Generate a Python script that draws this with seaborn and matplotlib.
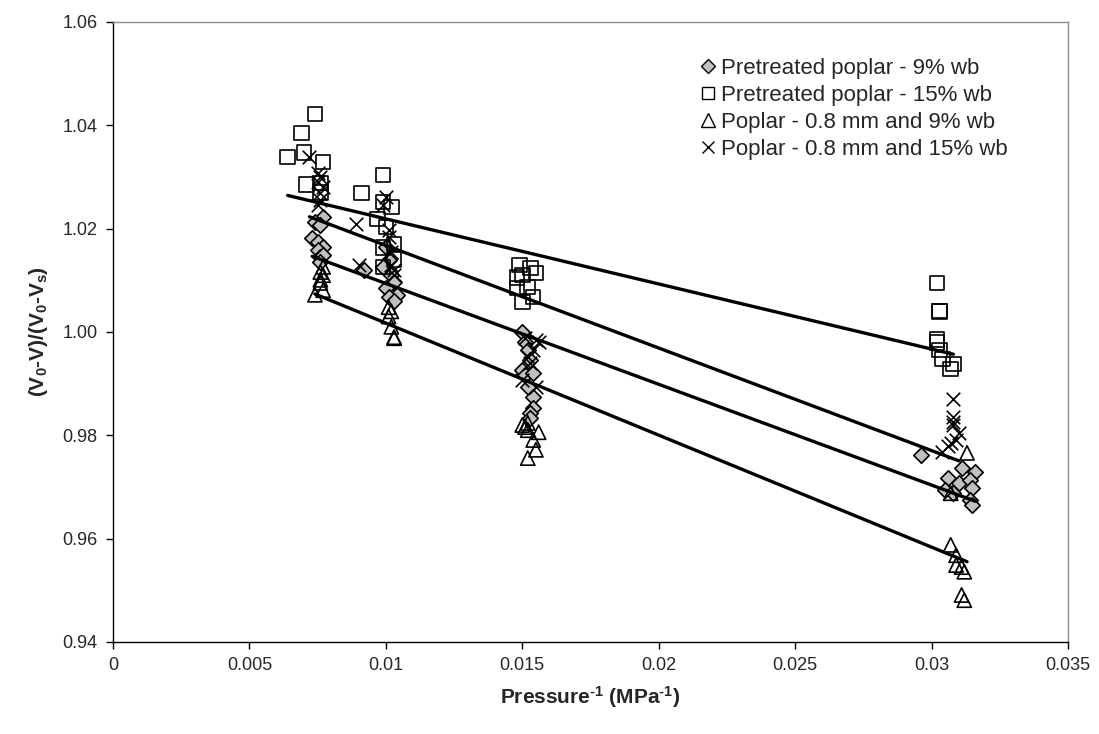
import numpy as np
import pandas as pd
import matplotlib
matplotlib.use("Agg")
import matplotlib.pyplot as plt
import seaborn as sns

sns.set_theme(style="white")
plt.rcParams["font.family"] = ["Liberation Sans", "DejaVu Sans"]
plt.rcParams["mathtext.fontset"] = "custom"
plt.rcParams["mathtext.rm"] = "Liberation Sans:bold"
plt.rcParams["mathtext.it"] = "Liberation Sans:bold"
plt.rcParams["mathtext.bf"] = "Liberation Sans:bold"
plt.rcParams["mathtext.default"] = "rm"

# --- measured compaction data: inverse pressure (MPa^-1) vs. relative volume ---
labels = [
    "Pretreated poplar - 9% wb",
    "Pretreated poplar - 15% wb",
    "Poplar - 0.8 mm and 9% wb",
    "Poplar - 0.8 mm and 15% wb",
]

pre9_x = [0.0077, 0.0074, 0.0076, 0.0073, 0.0075, 0.0077, 0.0075, 0.0076, 0.0077, 0.0076,
          0.0092,
          0.0100, 0.0101, 0.0099, 0.0102, 0.0103, 0.0100, 0.0104, 0.0101, 0.0103,
          0.0150, 0.0151, 0.0152, 0.0153, 0.0150, 0.0151, 0.0154, 0.0152, 0.0154, 0.0154, 0.0153, 0.0153,
          0.0296, 0.0311, 0.0316, 0.0306, 0.0310, 0.0314, 0.0315, 0.0308, 0.0314, 0.0315, 0.0305]
pre9_y = [1.0223, 1.0213, 1.0207, 1.0182, 1.0174, 1.0164, 1.0159, 1.0145, 1.0150, 1.0135,
          1.0120,
          1.0165, 1.0139, 1.0125, 1.0110, 1.0097, 1.0085, 1.0072, 1.0068, 1.0060,
          1.0000, 0.9980, 0.9965, 0.9946, 0.9927, 0.9917, 0.9921, 0.9894, 0.9874, 0.9853, 0.9843, 0.9834,
          0.9762, 0.9737, 0.9729, 0.9717, 0.9708, 0.9714, 0.9698, 0.9688, 0.9675, 0.9665, 0.9694]

pre15_x = [0.0074, 0.0069, 0.0064, 0.0070, 0.0077, 0.0071, 0.0076, 0.0076,
           0.0099, 0.0091, 0.0099, 0.0102, 0.0097, 0.0100, 0.0099, 0.0099, 0.0103, 0.0103,
           0.0149, 0.0153, 0.0148, 0.0155, 0.0150, 0.0148, 0.0152, 0.0154, 0.0150,
           0.0302, 0.0303, 0.0303, 0.0302, 0.0302, 0.0303, 0.0304, 0.0308, 0.0307]
pre15_y = [1.0422, 1.0385, 1.0339, 1.0347, 1.0329, 1.0286, 1.0288, 1.0270,
           1.0304, 1.0269, 1.0252, 1.0242, 1.0219, 1.0203, 1.0163, 1.0126, 1.0140, 1.0170,
           1.0130, 1.0124, 1.0106, 1.0114, 1.0110, 1.0085, 1.0087, 1.0068, 1.0058,
           1.0095, 1.0041, 1.0040, 0.9986, 0.9980, 0.9965, 0.9948, 0.9938, 0.9928]

pop9_x = [0.0077, 0.0076, 0.0077, 0.0076, 0.0076, 0.0077, 0.0074,
          0.0101, 0.0102, 0.0101, 0.0102, 0.0103, 0.0103,
          0.0150, 0.0151, 0.0152, 0.0156, 0.0152, 0.0154, 0.0155, 0.0152,
          0.0313, 0.0307, 0.0307, 0.0309, 0.0309, 0.0311, 0.0312, 0.0311, 0.0312]
pop9_y = [1.0126, 1.0116, 1.0110, 1.0101, 1.0095, 1.0081, 1.0072,
          1.0048, 1.0040, 1.0030, 1.0010, 0.9990, 0.9988,
          0.9820, 0.9816, 0.9810, 0.9806, 0.9824, 0.9791, 0.9772, 0.9756,
          0.9766, 0.9688, 0.9588, 0.9568, 0.9549, 0.9545, 0.9536, 0.9491, 0.9481]

pop15_x = [0.0072, 0.0075, 0.0076, 0.0075, 0.0077, 0.0076, 0.0076, 0.0075,
           0.0089, 0.0090,
           0.0100, 0.0099, 0.0101, 0.0101, 0.0102, 0.0103, 0.0103, 0.0102,
           0.0151, 0.0154, 0.0155, 0.0152, 0.0153, 0.0150, 0.0155, 0.0156,
           0.0308, 0.0308, 0.0308, 0.0308, 0.0310, 0.0309, 0.0307, 0.0304, 0.0306]
pop15_y = [1.0339, 1.0308, 1.0300, 1.0290, 1.0280, 1.0269, 1.0255, 1.0246,
           1.0209, 1.0129,
           1.0261, 1.0246, 1.0197, 1.0184, 1.0130, 1.0120, 1.0110, 1.0155,
           0.9988, 0.9965, 0.9985, 0.9952, 0.9940, 0.9907, 0.9894, 0.9980,
           0.9870, 0.9835, 0.9826, 0.9820, 0.9805, 0.9791, 0.9785, 0.9768, 0.9780]

# linear trendlines (slope, intercept) for each series
fit_slope = [-1.951, -1.260, -2.168, -1.985]
fit_intercept = [1.0289, 1.0345, 1.0234, 1.0366]

xs = [pre9_x, pre15_x, pop9_x, pop15_x]
ys = [pre9_y, pre15_y, pop9_y, pop15_y]

markers = ["D", "s", "^", "x"]
sizes = [62, 110, 105, 95]
faces = ["#c0c0c0", "none", "none", "black"]
legend_ms = [7.5, 8.0, 9.5, 8.0]

fig = plt.figure(figsize=(10.99, 7.34), dpi=100)
ax = fig.add_axes([113 / 1099, 1 - 642 / 734, (1068 - 113) / 1099, (642 - 22) / 734])

handles = []
for i, lab in enumerate(labels):
    df = pd.DataFrame({"x": xs[i], "y": ys[i]})
    if markers[i] == "x":
        sns.scatterplot(data=df, x="x", y="y", marker="x", s=sizes[i], color="black",
                        linewidth=1.2, ax=ax, zorder=3)
    else:
        sns.scatterplot(data=df, x="x", y="y", marker=markers[i], s=sizes[i],
                        facecolor=faces[i], edgecolor="black", linewidth=1.2,
                        ax=ax, zorder=3)
    h = plt.Line2D([], [], linestyle="none", marker=markers[i],
                   markersize=legend_ms[i],
                   markerfacecolor=faces[i] if markers[i] != "x" else "black",
                   markeredgecolor="black", markeredgewidth=1.0)
    handles.append(h)

for i in range(len(labels)):
    x0, x1 = min(xs[i]), max(xs[i])
    line_x = np.array([x0, x1])
    line_y = fit_intercept[i] + fit_slope[i] * line_x
    sns.lineplot(x=line_x, y=line_y, color="black", linewidth=2.4, ax=ax, zorder=4)

ax.set_xlim(0, 0.035)
ax.set_ylim(0.94, 1.06)
ax.set_xticks(np.arange(0, 0.0351, 0.005))
ax.set_xticklabels(["0", "0.005", "0.01", "0.015", "0.02", "0.025", "0.03", "0.035"])
ax.set_yticks(np.arange(0.94, 1.0601, 0.02))
ax.set_yticklabels([f"{v:.2f}" for v in np.arange(0.94, 1.0601, 0.02)])
ax.tick_params(axis="both", which="major", labelsize=13, direction="out",
               length=5, width=1, color="black", left=True, bottom=True, pad=6)

for side in ["left", "bottom"]:
    ax.spines[side].set_color("black")
    ax.spines[side].set_linewidth(1.0)
for side in ["top", "right"]:
    ax.spines[side].set_color("#8c8c8c")
    ax.spines[side].set_linewidth(1.0)

ax.set_xlabel(r"Pressure$^{\text{-}1}$ (MPa$^{\text{-}1}$)", fontsize=15, fontweight="bold", labelpad=7)
ax.set_ylabel("(V$_0$-V)/(V$_0$-V$_s$)", fontsize=15, fontweight="bold", labelpad=9)

ax.legend(handles, labels, loc="upper left", bbox_to_anchor=(0.603, 0.957),
          frameon=False, fontsize=16, handletextpad=0.15, handlelength=0.9,
          labelspacing=0.28, borderaxespad=0)

fig.savefig("out.png", dpi=100)
